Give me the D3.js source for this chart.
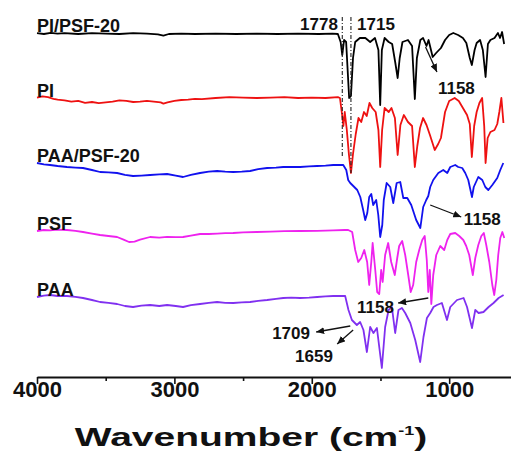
<!DOCTYPE html>
<html>
<head>
<meta charset="utf-8">
<script src="https://cdn.jsdelivr.net/npm/d3@7"></script>
<style>
  html, body { margin: 0; padding: 0; background: #fff; }
  svg text { font-family: "Liberation Sans", Arial, sans-serif; font-weight: bold; fill: #111; }
</style>
</head>
<body>
<div id="chart"></div>
<script>
// FTIR spectra, offset transmittance (a.u.) vs wavenumber (cm-1)
const seriesNames = ['PI/PSF-20', 'PI', 'PAA/PSF-20', 'PSF', 'PAA'];
const seriesColors = ['#000000', '#ee1111', '#1111ee', '#ee22ee', '#8030f0'];

const majorTicks = [4000, 3000, 2000, 1000];
const tickLabels = ['4000', '3000', '2000', '1000'];
const minorTicks = [3500, 2500, 1500];

const piPsf20 = [
  [4000,86.2],[3950,86.0],[3900,86.3],[3850,86.1],[3800,86.2],[3700,86.0],[3600,86.2],[3500,86.1],
  [3400,86.0],[3300,86.2],[3200,86.1],[3120,85.9],[3080,85.6],[3040,86.0],[2950,86.1],[2850,86.0],
  [2700,86.1],[2550,86.0],[2400,86.1],[2250,86.0],[2100,86.1],[1950,86.0],[1850,86.1],[1810,86.0],
  [1790,84],[1778,80.75],[1765,84.5],[1750,84],[1728,70],[1715,70.5],[1700,80],[1684,84],[1650,85],
  [1610,85],[1575,84],[1540,85],[1515,82],[1502,68.25],[1490,82],[1470,85],[1440,84],[1415,83.5],
  [1393,79],[1375,75],[1360,80],[1340,84],[1300,84.5],[1270,83],[1250,69.75],[1235,80],[1210,84.5],
  [1190,85],[1165,83],[1150,84.5],[1120,80.25],[1095,81.25],[1060,82.5],[1030,84.5],[1000,85.75],
  [970,86.25],[935,85.75],[900,85],[875,83.75],[850,80],[835,78.25],[815,82],[800,83.75],[775,84.5],
  [755,82],[735,75.25],[718,83.5],[700,84.5],[670,85],[645,86.25],[630,85],[615,86.5],[600,83.5]
];

const pi = [
  [4000,70.1],[3960,70.4],[3920,70.2],[3880,69.8],[3850,69.6],[3800,69.4],[3750,69.1],[3700,69.3],
  [3650,68.8],[3600,69.0],[3550,68.7],[3500,68.9],[3450,69.1],[3400,69.4],[3350,69.3],[3300,69.0],
  [3250,69.1],[3200,69.3],[3150,69.1],[3100,68.9],[3080,68.6],[3050,68.9],[3000,69.3],[2950,69.5],
  [2900,69.6],[2850,69.8],[2800,69.7],[2700,70.0],[2600,70.2],[2500,70.1],[2400,70.0],[2300,70.1],
  [2200,70.2],[2100,70.0],[2000,70.1],[1900,70.0],[1810,70.2],
  [1795,70],[1780,66],[1770,63],[1760,66.5],[1745,62],[1730,56],[1715,51.25],[1700,56],[1680,61],
  [1660,65],[1640,64],[1620,66.5],[1600,65.5],[1580,68.75],[1560,67.5],[1535,66.5],[1515,62],
  [1502,52.75],[1488,62],[1470,67.5],[1440,66.5],[1420,67.5],[1395,65],[1375,55.75],[1355,63.25],
  [1330,65.75],[1300,64],[1270,63],[1250,52.75],[1232,58],[1212,62.5],[1190,65],[1165,63.25],
  [1140,60.75],[1105,57],[1080,58.5],[1060,60],[1030,66.5],[1000,69.25],[960,70],[930,69.25],
  [900,67.5],[870,65.75],[850,63.5],[835,55.25],[818,63],[800,66.5],[780,68.75],[760,70],[745,63],
  [735,53.75],[720,60],[700,61.5],[670,62],[650,63.5],[635,66.5],[620,70],[605,63.75]
];

const paaPsf20 = [
  [4000,53.75],[3950,53.4],[3905,53.25],[3850,53.0],[3782,52.75],[3720,52.6],[3665,52.5],[3600,52.0],
  [3541,51.5],[3480,51.4],[3417,51.25],[3360,50.8],[3301,50.5],[3240,50.6],[3177,50.75],[3110,50.9],
  [3053,51.0],[2990,50.6],[2937,50.25],[2880,50.8],[2813,51.25],[2750,51.6],[2689,51.75],[2630,51.6],
  [2572,51.5],[2510,51.6],[2449,51.75],[2390,52.2],[2325,52.5],[2260,52.6],[2208,52.75],[2150,52.8],
  [2085,52.75],[2020,52.9],[1961,53.0],[1900,53.1],[1844,53.25],[1790,53.3],
  [1771,53.25],[1749,52],[1735,49.5],[1720,48.75],[1698,48],[1669,47],[1647,45.25],[1626,42],
  [1611,39.5],[1596,41.25],[1582,45.25],[1567,46],[1553,43.25],[1531,44.5],[1516,40.75],[1502,35.25],
  [1487,38.25],[1476,44.5],[1455,48.75],[1429,47.75],[1407,43.75],[1382,48.75],[1356,49],[1334,45],
  [1305,45],[1276,43.25],[1240,39.5],[1210,37.5],[1189,42.75],[1167,44.5],[1152,45.5],[1138,47.75],
  [1116,49.5],[1079,51.25],[1043,52],[1014,51.25],[992,52.75],[956,53.25],[934,52.75],[905,52.5],
  [883,51.25],[861,49.5],[834,45.25],[821,47.75],[788,50.25],[759,49.5],[737,47.75],[715,47],
  [686,48.25],[650,50],[628,52],[606,53.75]
];

const psf = [
  [4000,36.75],[3950,37.0],[3905,36.9],[3850,37.1],[3782,37.0],[3720,36.8],[3665,36.5],[3600,36.1],
  [3541,35.75],[3480,35.5],[3417,35.25],[3370,34.6],[3330,34.0],[3290,34.1],[3250,34.6],[3177,35.25],
  [3110,35.1],[3053,35.3],[2990,35.2],[2937,35.25],[2880,35.6],[2813,36.0],[2750,36.0],[2689,36.1],
  [2630,36.2],[2572,36.25],[2500,36.4],[2400,36.5],[2300,36.6],[2200,36.7],[2085,36.75],[1961,36.8],
  [1844,36.9],[1760,37.0],
  [1735,37],[1706,36.5],[1684,32],[1662,29],[1640,30],[1618,32],[1597,29],[1582,23.25],[1567,29],
  [1557,33.75],[1538,27],[1524,21.5],[1509,21],[1495,27],[1484,24],[1466,30.75],[1444,33.75],
  [1422,29],[1396,25.75],[1378,30],[1364,33],[1342,34.25],[1320,30.75],[1298,25.75],[1280,21.5],
  [1262,23.25],[1240,29],[1218,32],[1196,34.5],[1178,35.5],[1163,29.5],[1152,21.5],[1141,27],
  [1130,18.5],[1116,25.75],[1094,30.75],[1065,33],[1036,32],[1014,34.5],[992,36],[956,36.25],
  [927,35.5],[897,34.5],[876,33],[854,30.75],[828,25.75],[810,30],[788,33.25],[766,35.5],[748,36.25],
  [730,33.25],[708,29],[686,23.25],[672,20.75],[657,24.5],[643,30.75],[628,35],[613,36.5],[599,35]
];

const paa = [
  [4000,20.25],[3950,20.6],[3905,20.75],[3850,20.5],[3782,20.5],[3720,20.3],[3665,20.0],[3600,19.5],
  [3541,19.0],[3480,18.8],[3417,18.5],[3360,18.0],[3301,17.75],[3240,18.1],[3177,18.25],[3110,18.0],
  [3053,18.25],[2990,18.0],[2937,17.75],[2880,18.2],[2813,18.5],[2750,18.8],[2689,19.0],[2630,18.8],
  [2572,18.75],[2510,18.9],[2449,19.0],[2390,19.3],[2325,19.5],[2260,19.8],[2208,20.0],[2150,20.1],
  [2085,20.0],[2020,20.1],[1961,20.25],[1900,20.4],[1844,20.5],[1800,20.5],[1757,20.5],
  [1733,17],[1708,14.5],[1672,13.25],[1648,14],[1624,12],[1599,6.5],[1575,12.75],[1551,11.25],
  [1526,12.5],[1490,2.5],[1466,12.75],[1441,17],[1417,17.75],[1393,11.25],[1369,17],[1344,17.5],
  [1320,16.25],[1283,13.75],[1247,9.5],[1211,4],[1187,10.25],[1162,15],[1138,16.25],[1114,17.75],
  [1089,18.25],[1053,18.75],[1016,14.5],[992,17.75],[943,19.5],[895,20],[870,17.75],[834,12.5],
  [810,17],[786,16.25],[750,16.5],[713,17.75],[677,18.75],[640,20],[604,20.75]
];

const spectra = [piPsf20, pi, paaPsf20, psf, paa];

// peak marks: dash-dot guides and labelled arrows (wavenumber / a.u.)
const guideLines = [
  { w: 1778, top: 90.25, bottom: 55.25 },
  { w: 1715, top: 90.25, bottom: 51.25 }
];
const peakNotes = [
  { text: '1778', w: 1810, v: 87, anchor: 'end' },
  { text: '1715', w: 1670, v: 87, anchor: 'start' },
  { text: '1158', w: 1082, v: 71, anchor: 'start', from: [1172, 82.75], to: [1089, 76.5] },
  { text: '1158', w: 893, v: 38.25, anchor: 'start', from: [1138, 43.25], to: [912, 40.25] },
  { text: '1158', w: 1671, v: 16.25, anchor: 'start', from: [1152, 20], to: [1371, 18.75] },
  { text: '1709', w: 2013, v: 9.75, anchor: 'end', from: [1720, 13], to: [1968, 11.5] },
  { text: '1659', w: 1846, v: 4, anchor: 'end', from: [1699, 12], to: [1815, 8.5] }
];

const width = 511, height = 451;

const svg = d3.select('#chart').append('svg')
  .attr('width', width)
  .attr('height', height);

const x = d3.scaleLinear().domain([4000, 550]).range([37, 511]);
const y = d3.scaleLinear().domain([0, 95]).range([378, -2]);

svg.append('defs').append('marker')
  .attr('id', 'arrow')
  .attr('markerUnits', 'userSpaceOnUse')
  .attr('markerWidth', 8).attr('markerHeight', 7)
  .attr('refX', 8).attr('refY', 3.5)
  .attr('orient', 'auto')
  .append('path')
  .attr('d', 'M0,0 L8,3.5 L0,7 Z')
  .attr('fill', '#111');

// axis
const axisG = svg.append('g')
  .attr('transform', 'translate(0,377)');

axisG.append('g')
  .call(d3.axisBottom(x).tickValues(minorTicks).tickSize(4).tickSizeOuter(0).tickFormat(''))
  .call(g => g.select('.domain').remove())
  .selectAll('line').attr('stroke', '#111').attr('stroke-width', 1.6);

axisG.append('g')
  .call(d3.axisBottom(x).tickValues(majorTicks).tickSize(7).tickSizeOuter(0)
    .tickFormat((d, i) => tickLabels[i]))
  .call(g => {
    g.select('.domain').attr('stroke', '#111').attr('stroke-width', 2);
    g.selectAll('line').attr('stroke', '#111').attr('stroke-width', 1.6);
    g.selectAll('text')
      .attr('y', 20).attr('dy', 0)
      .attr('font-size', '22px')
      .attr('fill', '#111');
  });

// wide, heavy axis title as in the figure
const title = svg.append('text')
  .attr('transform', 'translate(251,446) scale(1.5,1)')
  .attr('text-anchor', 'middle')
  .attr('font-size', '26px');
title.append('tspan').text('Wavenumber (cm');
title.append('tspan').attr('font-size', '12px').attr('dy', -11).text('-1');
title.append('tspan').attr('dy', 11).text(')');

// spectra
const line = d3.line().x(d => x(d[0])).y(d => y(d[1]));

svg.selectAll('.spectrum')
  .data(spectra)
  .enter().append('path')
  .attr('class', 'spectrum')
  .attr('d', line)
  .attr('fill', 'none')
  .attr('stroke', (d, i) => seriesColors[i])
  .attr('stroke-width', 1.8)
  .attr('stroke-linejoin', 'round');

svg.selectAll('.series-label')
  .data(spectra)
  .enter().append('text')
  .attr('class', 'series-label')
  .attr('x', d => x(d[0][0]))
  .attr('y', d => y(d[0][1]) - 1)
  .attr('font-size', '18px')
  .text((d, i) => seriesNames[i]);

svg.selectAll('.guide')
  .data(guideLines)
  .enter().append('line')
  .attr('class', 'guide')
  .attr('x1', d => x(d.w)).attr('x2', d => x(d.w))
  .attr('y1', d => y(d.top)).attr('y2', d => y(d.bottom))
  .attr('stroke', '#222')
  .attr('stroke-width', 1.1)
  .attr('stroke-dasharray', '4,2,1,2');

svg.selectAll('.peak-arrow')
  .data(peakNotes.filter(d => d.from))
  .enter().append('line')
  .attr('class', 'peak-arrow')
  .attr('x1', d => x(d.from[0])).attr('y1', d => y(d.from[1]))
  .attr('x2', d => x(d.to[0])).attr('y2', d => y(d.to[1]))
  .attr('stroke', '#111')
  .attr('stroke-width', 1.3)
  .attr('marker-end', 'url(#arrow)');

svg.selectAll('.peak-label')
  .data(peakNotes)
  .enter().append('text')
  .attr('class', 'peak-label')
  .attr('x', d => x(d.w))
  .attr('y', d => y(d.v))
  .attr('text-anchor', d => d.anchor)
  .attr('font-size', '17px')
  .text(d => d.text);
</script>
</body>
</html>
